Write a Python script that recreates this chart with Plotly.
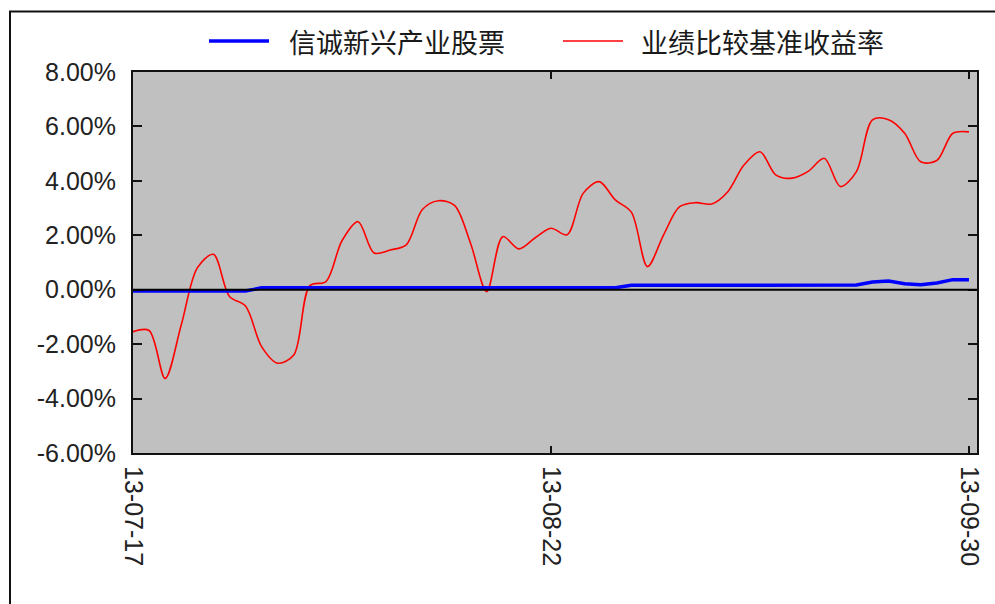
import plotly.graph_objects as go

dates = [
    "13-07-17", "13-07-18", "13-07-19", "13-07-22", "13-07-23", "13-07-24", "13-07-25", "13-07-26",
    "13-07-29", "13-07-30", "13-07-31", "13-08-01", "13-08-02", "13-08-05", "13-08-06", "13-08-07",
    "13-08-08", "13-08-09", "13-08-12", "13-08-13", "13-08-14", "13-08-15", "13-08-16", "13-08-19",
    "13-08-20", "13-08-21", "13-08-22", "13-08-23", "13-08-26", "13-08-27", "13-08-28", "13-08-29",
    "13-08-30", "13-09-02", "13-09-03", "13-09-04", "13-09-05", "13-09-06", "13-09-09", "13-09-10",
    "13-09-11", "13-09-12", "13-09-13", "13-09-16", "13-09-17", "13-09-18", "13-09-22", "13-09-23",
    "13-09-24", "13-09-25", "13-09-26", "13-09-27", "13-09-30",
]

fund = [
    -0.05, -0.05, -0.05, -0.05, -0.05, -0.05, -0.05, -0.05,
    0.07, 0.07, 0.07, 0.07, 0.07, 0.07, 0.07, 0.07,
    0.07, 0.07, 0.07, 0.07, 0.07, 0.07, 0.07, 0.07,
    0.07, 0.07, 0.07, 0.07, 0.07, 0.07, 0.07, 0.16,
    0.16, 0.16, 0.16, 0.16, 0.16, 0.16, 0.16, 0.16,
    0.16, 0.16, 0.16, 0.16, 0.16, 0.17, 0.28, 0.32,
    0.22, 0.18, 0.25, 0.37, 0.37,
]

benchmark = [
    -1.54, -1.50, -3.26, -1.30, 0.80, 1.30, -0.25, -0.60,
    -2.09, -2.70, -2.40, 0.15, 0.30, 1.80, 2.50, 1.35,
    1.46, 1.65, 2.95, 3.27, 3.10, 1.70, -0.07, 1.95,
    1.50, 1.90, 2.26, 2.02, 3.54, 3.97, 3.30, 2.85,
    0.85, 2.01, 3.05, 3.20, 3.15, 3.60, 4.58, 5.07,
    4.21, 4.10, 4.35, 4.83, 3.79, 4.34, 6.24, 6.25,
    5.75, 4.70, 4.75, 5.75, 5.80,
]

y_ticks = [8, 6, 4, 2, 0, -2, -4, -6]
x_ticks = ["13-07-17", "13-08-22", "13-09-30"]
series_names = ["信诚新兴产业股票", "业绩比较基准收益率"]

W, H = 995, 604
L, R, T, B = 133, 977, 72, 453


def px(x):
    return (x - L) / (R - L)


def py(y):
    return (B - y) / (B - T)


fig = go.Figure()
fig.add_trace(go.Scatter(
    x=dates, y=benchmark, mode="lines", name=series_names[1],
    line=dict(color="#ff0000", width=1.6, shape="spline", smoothing=0.9),
))
fig.add_trace(go.Scatter(
    x=dates, y=fund, mode="lines", name=series_names[0],
    line=dict(color="#0000ff", width=3.5),
))

tick_font = dict(family="Liberation Sans, Arial, sans-serif", size=25, color="#222222")
cjk_font = dict(family="Noto Sans CJK SC, sans-serif", size=27, color="#1a1a1a")

fig.update_layout(
    width=W, height=H,
    margin=dict(l=L, r=W - R, t=T, b=H - B, pad=0),
    paper_bgcolor="white",
    plot_bgcolor="#c0c0c0",
    showlegend=False,
    xaxis=dict(
        type="category",
        range=[0, len(dates) - 0.5],
        tickmode="array", tickvals=x_ticks, ticktext=x_ticks,
        tickangle=90, ticks="inside", ticklen=7, tickwidth=2, tickcolor="#111111",
        showline=True, linecolor="#111111", linewidth=2, mirror="ticks",
        showgrid=False, zeroline=False, tickfont=tick_font,
        ticklabelstandoff=6,
    ),
    yaxis=dict(
        range=[-6, 8],
        tickmode="array", tickvals=y_ticks,
        ticktext=[f"{v:.2f}%" for v in y_ticks],
        ticks="inside", ticklen=9, tickwidth=2, tickcolor="#111111",
        showline=True, linecolor="#111111", linewidth=2, mirror="ticks",
        showgrid=False, zeroline=False, tickfont=tick_font,
        ticklabelstandoff=10,
    ),
    shapes=[
        dict(type="line", xref="paper", yref="y", x0=0, x1=1, y0=0, y1=0,
             line=dict(color="#000000", width=2), layer="above"),
        dict(type="rect", xref="paper", yref="paper",
             x0=px(10), x1=px(1010), y0=py(11.5), y1=py(640),
             line=dict(color="#111111", width=2), fillcolor="rgba(0,0,0,0)", layer="below"),
        dict(type="line", xref="paper", yref="paper",
             x0=px(209), x1=px(269), y0=py(41), y1=py(41),
             line=dict(color="#0000ff", width=3.5)),
        dict(type="line", xref="paper", yref="paper",
             x0=px(563), x1=px(623), y0=py(41), y1=py(41),
             line=dict(color="#ff0000", width=1.6)),
    ],
    annotations=[
        dict(xref="paper", yref="paper", x=px(287), y=py(41), text=series_names[0],
             showarrow=False, xanchor="left", yanchor="middle", font=cjk_font),
        dict(xref="paper", yref="paper", x=px(639), y=py(41), text=series_names[1],
             showarrow=False, xanchor="left", yanchor="middle", font=cjk_font),
    ],
)

fig.write_html(
    "out.html",
    config={"displayModeBar": False},
    post_script="document.body.style.margin='0';document.body.style.overflow='hidden';",
)
